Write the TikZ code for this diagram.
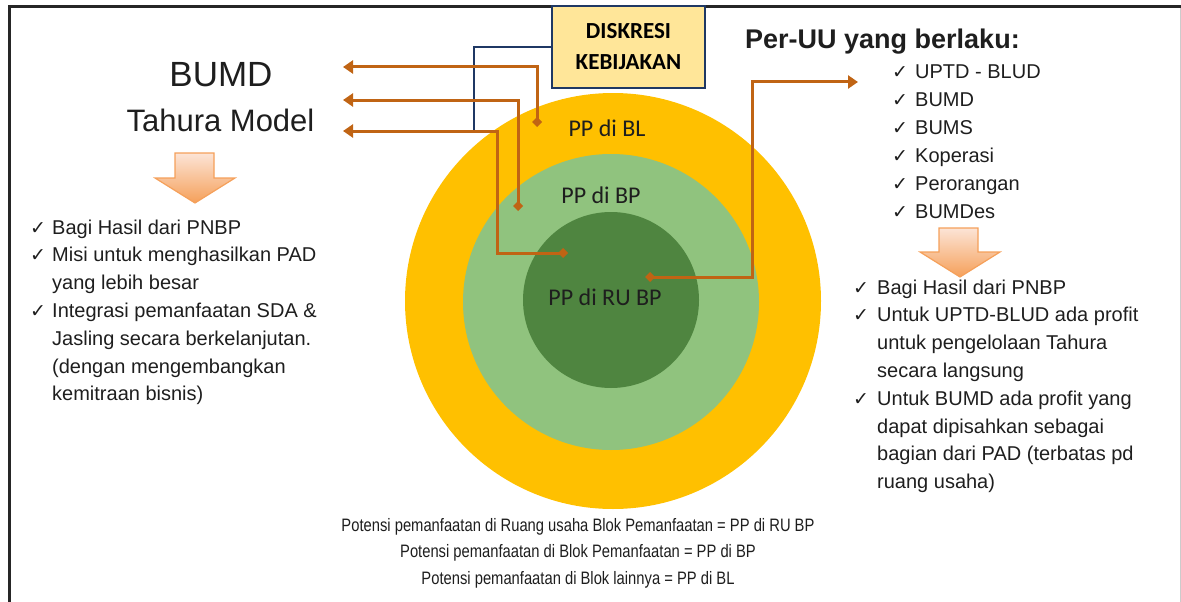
\documentclass[tikz,border=0pt]{standalone}
\usepackage{fontspec}
\setmainfont{Liberation Sans}
\newfontfamily\calibri{Carlito}
\newfontfamily\symb{DejaVu Sans}
\newfontfamily\narrowsans[FakeStretch=0.82]{Liberation Sans}
\usetikzlibrary{arrows.meta}

\definecolor{ringgold}{HTML}{FFC000}
\definecolor{ringlight}{HTML}{90C37E}
\definecolor{ringdark}{HTML}{4F8540}
\definecolor{linkbrown}{HTML}{C06414}
\definecolor{navy}{HTML}{1F3864}
\definecolor{notebox}{HTML}{FFE699}
\definecolor{peach}{HTML}{FCE4D6}
\definecolor{arroworange}{HTML}{F5A05A}
\definecolor{ink}{HTML}{1E1E1E}

\newcommand{\chk}{{\symb\fontsize{19}{19}\selectfont ✓}}

\tikzset{
    ring/.style={circle, inner sep=0pt, draw=none},
    pplabel/.style={font=\calibri\fontsize{24}{24}\selectfont, text=ink, inner sep=0pt},
    link/.style={draw=linkbrown, line width=3pt, {Diamond[length=10pt,width=10pt]}-{Triangle[length=10pt,width=13pt]}},
    checklist/.style={inner sep=0pt, anchor=base west, text=ink, font=\fontsize{20}{27.8}\selectfont},
    downarrow/.style={draw=arroworange, line width=1.2pt, top color=peach, bottom color=arroworange}
}

\begin{document}
\begin{tikzpicture}[x=1pt,y=-1pt]
    \useasboundingbox (0,0) rectangle (1181,602);

    % frame
    \draw [line width=3pt, black!85] (9,602) -- (9,7) -- (1181,7);
    \draw [line width=1pt, black!20] (1180,8) -- (1180,602);

    % rings
    \node (bl) [ring, fill=ringgold, minimum size=416pt] at (613,301) {};
    \node (bp) [ring, fill=ringlight, minimum size=296pt] at (611,302) {};
    \node (rubp) [ring, fill=ringdark, minimum size=176pt] at (611,300) {};

    \node (blText) [pplabel] at (607,128) {PP di BL};
    \node (bpText) [pplabel] at (601,195) {PP di BP};
    \node (rubpText) [pplabel] at (605,297) {PP di RU BP};

    % ends of the links
    \node (inBL) [coordinate] at (537,127) {};
    \node (inBP) [coordinate] at (518,211) {};
    \node (inRU) [coordinate] at (568,253) {};
    \node (kinkRU) [coordinate] at (497,253) {};
    \node (outBL) [coordinate] at (343,67) {};
    \node (outBP) [coordinate] at (343,100) {};
    \node (outRU) [coordinate] at (343,131) {};
    \node (fromRU) [coordinate] at (645,277) {};
    \node (riseUU) [coordinate] at (752,82) {};
    \node (toUU) [coordinate] at (858,82) {};

    % discretion box
    \node (diskresi) [draw=navy, line width=2pt, fill=notebox, minimum width=153pt, minimum height=82pt,
        align=center, font=\calibri\bfseries\fontsize{23}{31}\selectfont] at (628.5,47) {DISKRESI\\KEBIJAKAN};
    \node (navyEnd) [coordinate] at (474,131) {};
    \draw [navy, line width=2.4pt] (diskresi.west) -| (navyEnd);

    \path [link]
        (inBL) |- (outBL);
    \path [link]
        (inBP) |- (outBP);
    \draw [link] (inRU) -- (kinkRU) |- (outRU);
    \draw [link] (fromRU) -| (riseUU) -- (toUU);

    % left side
    \node (bumd) [anchor=base, text=ink, font=\fontsize{35}{35}\selectfont, inner sep=0pt] at (221,87) {BUMD};
    \node (tahura) [anchor=base, text=ink, font=\fontsize{31}{31}\selectfont, inner sep=0pt] at (220.5,131) {Tahura Model};

    \path [downarrow] (175,153) -- (214,153) -- (214,178) -- (235,178) -- (195,203) -- (155,178) -- (175,178) -- cycle;

    \node (leftList) [checklist] at (30,234) {\begin{tabular}[t]{@{}p{22pt}@{}l@{}}
        \chk & Bagi Hasil dari PNBP\\
        \chk & Misi untuk menghasilkan PAD\\
             & yang lebih besar\\
        \chk & Integrasi pemanfaatan SDA \&\\
             & Jasling secara berkelanjutan.\\
             & (dengan mengembangkan\\
             & kemitraan bisnis)
    \end{tabular}};

    % right side
    \node (perUU) [anchor=base west, text=ink, font=\bfseries\fontsize{27}{27}\selectfont, inner sep=0pt] at (745,49) {Per-UU yang berlaku:};

    \node (formList) [checklist] at (892,79) {\begin{tabular}[t]{@{}p{23pt}@{}l@{}}
        \chk & UPTD - BLUD\\
        \chk & BUMD\\
        \chk & BUMS\\
        \chk & Koperasi\\
        \chk & Perorangan\\
        \chk & BUMDes
    \end{tabular}};

    \path [downarrow] (939,228) -- (978,228) -- (978,252) -- (1000,252) -- (960,277) -- (920,252) -- (939,252) -- cycle;

    \node (rightList) [checklist] at (853,294) {\begin{tabular}[t]{@{}p{24pt}@{}l@{}}
        \chk & Bagi Hasil dari PNBP\\
        \chk & Untuk UPTD-BLUD ada profit\\
             & untuk pengelolaan Tahura\\
             & secara langsung\\
        \chk & Untuk BUMD ada profit yang\\
             & dapat dipisahkan sebagai\\
             & bagian dari PAD (terbatas pd\\
             & ruang usaha)
    \end{tabular}};

    % legend
    \node (legend) [anchor=base, align=center, text=ink, inner sep=0pt,
        font=\narrowsans\fontsize{18}{26.5}\selectfont] at (578,584)
        {Potensi pemanfaatan di Ruang usaha Blok Pemanfaatan = PP di RU BP\\
         Potensi pemanfaatan di Blok Pemanfaatan = PP di BP\\
         Potensi pemanfaatan di Blok lainnya = PP di BL};
\end{tikzpicture}
\end{document}
